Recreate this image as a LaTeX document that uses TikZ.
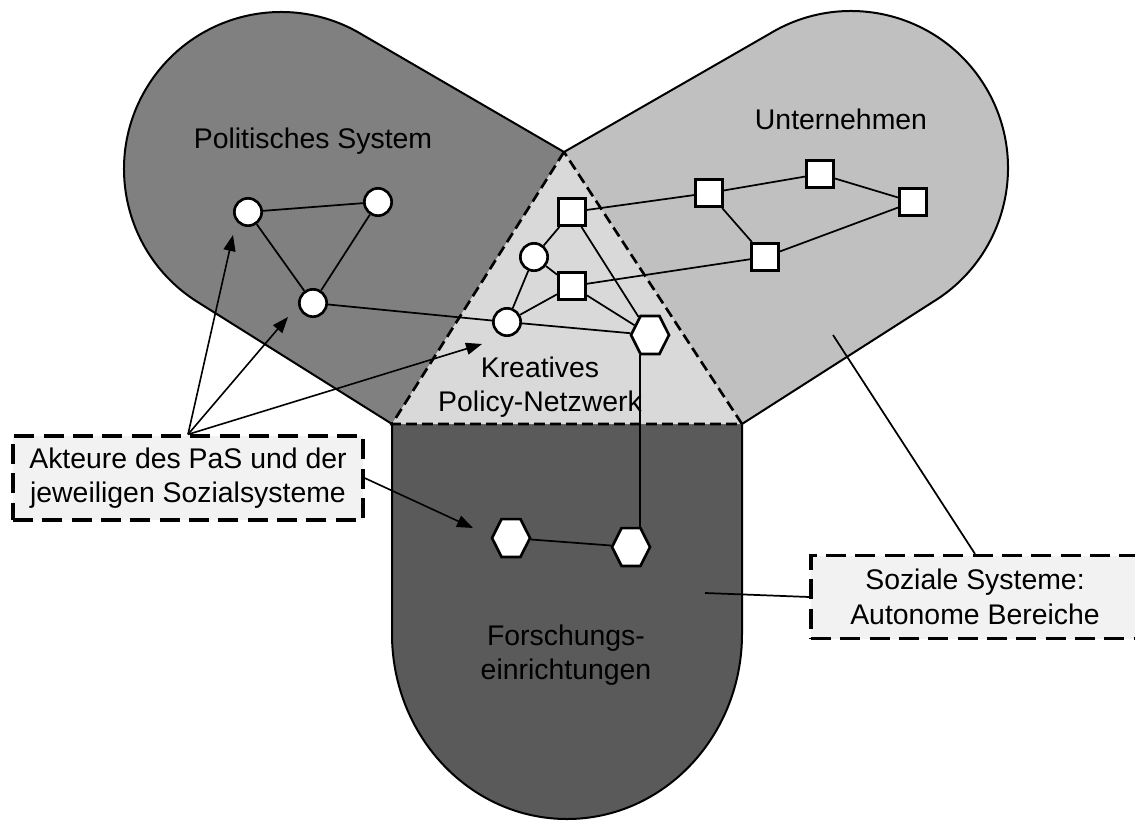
\documentclass[tikz,border=0pt]{standalone}
\usepackage{amsmath}
\usepackage{xcolor}
\usepackage{fontspec}
\setmainfont{Liberation Sans}
\usepackage{tikz}
\usetikzlibrary{calc,arrows.meta,shapes.geometric}

\definecolor{politik}{HTML}{808080}
\definecolor{firmen}{HTML}{C0C0C0}
\definecolor{forschung}{HTML}{5A5A5A}
\definecolor{netz}{HTML}{D9D9D9}
\definecolor{kasten}{HTML}{F2F2F2}

\begin{document}
\begin{tikzpicture}[x=0.75pt,y=0.75pt,yscale=-1,xscale=1,
  every node/.style={font=\fontsize{21.3}{26}\selectfont},
  lobe/.style={line width=1.5pt},
  netzrand/.style={line width=2pt,dash pattern=on 8pt off 4pt},
  akteur/.style={circle,draw,fill=white,line width=2pt,minimum size=20.5pt,inner sep=0pt},
  firma/.style={rectangle,draw,fill=white,line width=2pt,minimum size=20.5pt,inner sep=0pt},
  institut/.style={regular polygon,regular polygon sides=6,draw,fill=white,line width=2pt,minimum size=28.5pt,inner sep=0pt,yscale=1.15},
  link/.style={line width=1.3pt},
  pfeil/.style={line width=1.2pt,-{Triangle[length=12pt,width=9pt]}},
  hinweis/.style={draw,fill=kasten,line width=2.4pt,dash pattern=on 15pt off 7pt,align=center,inner sep=0pt}
]

\useasboundingbox (0,0) rectangle (1135,821);

\coordinate (apex) at (564,152);
\coordinate (tl) at (392,424);
\coordinate (tr) at (742,424);
\coordinate (cL) at (281,169);
\coordinate (cR) at (851,168);


\fill [politik] (apex) -- ($(cL)+(301.4:157)$) arc [start angle=301.4, end angle=121.4, radius=157] -- (tl) -- cycle;
\draw [lobe] (apex) -- ($(cL)+(301.4:157)$) arc [start angle=301.4, end angle=121.4, radius=157] -- (tl);

\fill [firmen] (apex) -- ($(cR)+(238.6:157)$) arc [start angle=238.6, end angle=418.6, radius=157] -- (tr) -- cycle;
\draw [lobe] (apex) -- ($(cR)+(238.6:157)$) arc [start angle=238.6, end angle=418.6, radius=157] -- (tr);

\fill [forschung] (tl) -- (392,634) arc [start angle=180, end angle=0, x radius=175, y radius=185] -- (tr) -- cycle;
\draw [lobe] (tl) -- (392,634) arc [start angle=180, end angle=0, x radius=175, y radius=185] -- (tr);

\fill [netz] (apex) -- (tl) -- (tr) -- cycle;
\draw [netzrand] (apex) -- (tl) -- (tr) -- cycle;


\node [anchor=base] (lPol) at (313,148) {Politisches System};

\node [anchor=base] (lUnt) at (841,129) {Unternehmen};

\node [align=center] (lNetz) at (540,387) {Kreatives\\Policy-Netzwerk};

\node [align=center] (lFor) at (566,655) {Forschungs-\\einrichtungen};


\node [akteur] (P1) at (248,212) {};
\node [akteur] (P2) at (378,202) {};
\node [akteur] (P3) at (313,303) {};
\node [akteur] (C1) at (534,257) {};
\node [akteur] (C2) at (507,322) {};

\node [firma] (S1) at (572,212) {};
\node [firma] (S2) at (572,286) {};
\node [firma] (S3) at (709,193) {};
\node [firma] (S4) at (820,174) {};
\node [firma] (S5) at (913,202) {};
\node [firma] (S6) at (765,257) {};

\node [institut] (H1) at (650,335) {};
\node [institut] (H2) at (511,538) {};
\node [institut] (H3) at (631,547) {};


\draw [link] (P1) -- (P2);
\draw [link] (P1) -- (P3);
\draw [link] (P2) -- (P3);
\draw [link] (P3) -- (C2);

\draw [link] (C1) -- (S1);
\draw [link] (C1) -- (S2);
\draw [link] (C1) -- (C2);
\draw [link] (C2) -- (S2);
\draw [link] (C2) -- (H1);
\draw [link] (S1) -- (H1);
\draw [link] (S2) -- (H1);

\draw [link] (S1) -- (S3);
\draw [link] (S3) -- (S4);
\draw [link] (S4) -- (S5);
\draw [link] (S3) -- (S6);
\draw [link] (S2) -- (S6);
\draw [link] (S6) -- (S5);

\coordinate (hx) at ([xshift=-7.5pt]H1.south);
\draw [link] (hx) -- (hx |- H3.north);
\draw [link] (H2) -- (H3);


\node [hinweis, minimum width=262.5pt, minimum height=63pt] (akt) at (188,478) {Akteure des PaS und der\\jeweiligen Sozialsysteme};

\node [hinweis, minimum width=246pt, minimum height=62.25pt] (soz) at (975,597) {Soziale Systeme:\\Autonome Bereiche};


\coordinate (zP1) at (233,235);
\coordinate (zP3) at (288,317);
\coordinate (zNetz) at (482,344);
\coordinate (zH2) at (473,528);
\coordinate (zUnt) at (833,335);
\coordinate (zFor) at (705,593);

\draw [pfeil] (akt.north) -- (zP1);
\draw [pfeil] (akt.north) -- (zP3);
\draw [pfeil] (akt.north) -- (zNetz);
\draw [pfeil] (akt.east) -- (zH2);

\draw [link] (soz.north) -- (zUnt);
\draw [link] (soz.west) -- (zFor);

\end{tikzpicture}
\end{document}
